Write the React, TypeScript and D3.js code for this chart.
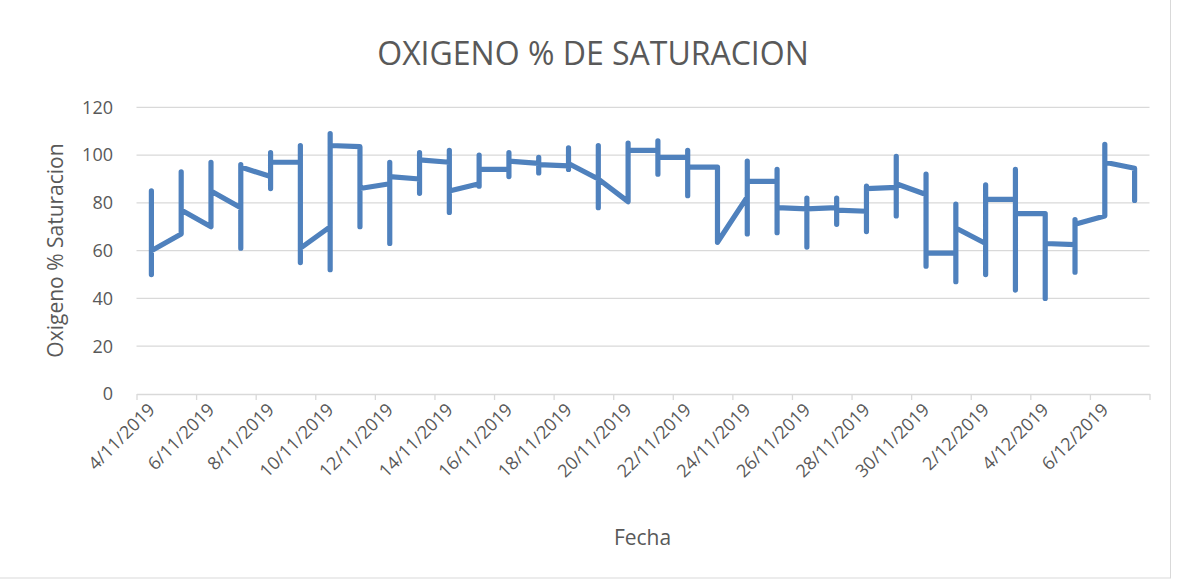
import React, { useRef, useEffect } from 'react'
import * as d3 from 'd3'

// lecturas diarias de oxigeno (% saturacion), varias por dia
const fechas = [
  '2019-11-04', '2019-11-05', '2019-11-06', '2019-11-07', '2019-11-08',
  '2019-11-09', '2019-11-10', '2019-11-11', '2019-11-12', '2019-11-13',
  '2019-11-14', '2019-11-15', '2019-11-16', '2019-11-17', '2019-11-18',
  '2019-11-19', '2019-11-20', '2019-11-21', '2019-11-22', '2019-11-23',
  '2019-11-24', '2019-11-25', '2019-11-26', '2019-11-27', '2019-11-28',
  '2019-11-29', '2019-11-30', '2019-12-01', '2019-12-02', '2019-12-03',
  '2019-12-04', '2019-12-05', '2019-12-06', '2019-12-07',
]

const lecturas: number[][] = [
  [85, 50, 60],
  [67, 93, 77],
  [70, 97, 85],
  [78, 61, 96, 95],
  [91, 86, 101, 97],
  [97, 104, 55, 61],
  [70, 52, 109, 104],
  [103.5, 70, 86],
  [88, 63, 97, 91],
  [90, 84, 101, 98],
  [97, 102, 76, 85],
  [88, 87, 100, 94],
  [94, 91, 101, 97.5],
  [96.5, 99, 92.5, 96],
  [95.5, 103, 94, 96.5],
  [90, 104, 78, 90],
  [80.5, 105, 102],
  [102, 106, 92, 99],
  [99, 102, 83, 95],
  [95, 63.5],
  [82.5, 67, 97.5, 89],
  [89, 94, 67.5, 78],
  [77.5, 82, 61.5, 77.5],
  [78, 82, 71, 77],
  [76.5, 68, 87, 86],
  [86.5, 99.5, 74.5, 88],
  [83.5, 92, 53.5, 59],
  [59, 47, 79.5, 69.5],
  [63, 50, 87.5, 81.5],
  [81.5, 94, 43.5, 75.5],
  [75.5, 40, 63],
  [62.5, 51, 73, 71],
  [74.5, 104.5, 97],
  [94.5, 81],
]

const yTicks = [0, 20, 40, 60, 80, 100, 120]

const titulo = 'OXIGENO % DE SATURACION'
const tituloY = 'Oxigeno % Saturacion'
const tituloX = 'Fecha'

const W = 1177
const H = 580
const FONT = "'Open Sans', sans-serif"
const GRIS = '#595959'

export default function App() {
  const svgRef = useRef<SVGSVGElement>(null)

  useEffect(() => {
    const svg = d3.select(svgRef.current)
    svg.selectAll('*').remove()

    const parse = d3.timeParse('%Y-%m-%d')
    const dias = fechas.map((f) => parse(f) as Date)
    const inicio = dias[0]
    const fin = d3.timeDay.offset(dias[dias.length - 1], 1)

    const x = d3.scaleTime().domain([inicio, fin]).range([136.5, 1149.5])
    const y = d3.scaleLinear().domain([0, 120]).range([394, 107.3])

    // borde del grafico (solo se ve a la derecha y abajo)
    svg
      .append('rect')
      .attr('x', -1)
      .attr('y', -1)
      .attr('width', 1171.5)
      .attr('height', 579)
      .attr('fill', 'white')
      .attr('stroke', '#d9d9d9')

    // lineas de cuadricula
    svg
      .append('g')
      .selectAll('line')
      .data(yTicks.filter((t) => t > 0))
      .join('line')
      .attr('x1', x.range()[0])
      .attr('x2', x.range()[1])
      .attr('y1', (d) => y(d))
      .attr('y2', (d) => y(d))
      .attr('stroke', '#d9d9d9')
      .attr('stroke-width', 1.3)

    // eje x (marcas cada 2 dias)
    const marcas = d3.timeDay.range(inicio, d3.timeDay.offset(fin, 1), 2)
    const fmt = d3.timeFormat('%-d/%m/%Y')
    const xAxis = d3
      .axisBottom(x)
      .tickValues(marcas)
      .tickSize(6)
      .tickSizeOuter(0)
      .tickFormat((d, i) => (i < marcas.length - 1 ? fmt(d as Date) : ''))
    const gx = svg.append('g').attr('transform', `translate(0,${y(0)})`).call(xAxis)
    gx.select('.domain').attr('stroke', '#d9d9d9').attr('stroke-width', 1.3)
    gx.selectAll('.tick line').attr('stroke', '#d9d9d9').attr('stroke-width', 1.3)
    gx.selectAll('.tick text')
      .attr('fill', GRIS)
      .attr('font-family', FONT)
      .attr('font-size', 18)
      .attr('text-anchor', 'end')
      .attr('dy', null)
      .attr('y', null)
      .attr('transform', 'translate(19,17) rotate(-45)')

    // eje y (solo etiquetas)
    svg
      .append('g')
      .selectAll('text')
      .data(yTicks)
      .join('text')
      .attr('x', 113)
      .attr('y', (d) => y(d))
      .attr('dy', '0.35em')
      .attr('text-anchor', 'end')
      .attr('fill', GRIS)
      .attr('font-family', FONT)
      .attr('font-size', 18)
      .text((d) => d)

    // serie
    const puntos = lecturas.flatMap((vals, i) =>
      vals.map((v) => ({ fecha: d3.timeHour.offset(dias[i], 12), valor: v }))
    )
    const linea = d3
      .line<{ fecha: Date; valor: number }>()
      .x((d) => x(d.fecha))
      .y((d) => y(d.valor))
    svg
      .append('path')
      .datum(puntos)
      .attr('d', linea)
      .attr('fill', 'none')
      .attr('stroke', '#4f81bd')
      .attr('stroke-width', 5.2)
      .attr('stroke-linejoin', 'round')
      .attr('stroke-linecap', 'round')

    // titulos
    svg
      .append('text')
      .attr('x', 593)
      .attr('y', 65)
      .attr('text-anchor', 'middle')
      .attr('fill', GRIS)
      .attr('font-family', FONT)
      .attr('font-size', 32)
      .text(titulo)

    svg
      .append('text')
      .attr('x', 642.5)
      .attr('y', 545)
      .attr('text-anchor', 'middle')
      .attr('fill', GRIS)
      .attr('font-family', FONT)
      .attr('font-size', 21)
      .text(tituloX)

    svg
      .append('text')
      .attr('transform', `translate(63,250.5) rotate(-90)`)
      .attr('text-anchor', 'middle')
      .attr('fill', GRIS)
      .attr('font-family', FONT)
      .attr('font-size', 21)
      .text(tituloY)
  }, [])

  return (
    <svg
      ref={svgRef}
      width={W}
      height={H}
      style={{ position: 'absolute', left: 0, top: 0, background: 'white' }}
    />
  )
}
